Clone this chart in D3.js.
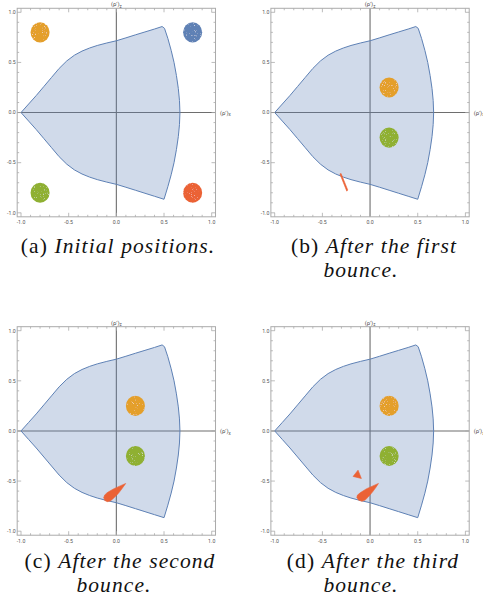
<!DOCTYPE html>
<html>
<head>
<meta charset="utf-8">
<script src="https://cdn.jsdelivr.net/npm/d3@7"></script>
<style>
  body { margin: 0; background: #fff; }
  svg { display: block; }
  .cap { font-family: "Liberation Serif", "DejaVu Serif", "Noto Serif", "Times New Roman", Times, serif; font-size: 21.5px; letter-spacing: 1.1px; fill: #111; }
  .tk { font-family: Roboto, "DejaVu Sans", sans-serif; fill: #555; }
</style>
</head>
<body>
<svg id="fig" width="483" height="607">
  <defs>
    <!-- fine grain so the clusters read as dense point clouds -->
    <filter id="grain" x="0" y="0" width="1" height="1">
      <feTurbulence type="fractalNoise" baseFrequency="1.1" numOctaves="1" seed="7" result="noise"/>
      <feColorMatrix in="noise" type="matrix"
        values="0 0 0 0 1  0 0 0 0 1  0 0 0 0 1  3 0 0 0 -1.85" result="spots"/>
      <feComposite in="spots" in2="SourceGraphic" operator="in" result="clipped"/>
      <feMerge><feMergeNode in="SourceGraphic"/><feMergeNode in="clipped"/></feMerge>
    </filter>
  </defs>
</svg>
<script>
// ---- values (data units of the (ρ')x / (ρ')z plane) ----
const tickValues = [-1, -0.5, 0, 0.5, 1];
const tickLabels = ["-1.0", "-0.5", "0.0", "0.5", "1.0"];
const minorTickValues = [-0.9, -0.8, -0.7, -0.6, -0.4, -0.3, -0.2, -0.1,
                         0.1, 0.2, 0.3, 0.4, 0.6, 0.7, 0.8, 0.9];

// boundary of the allowed region
const regionBoundary = [
  [-1.00, 0.00], [-0.92, 0.085], [-0.84, 0.17], [-0.76, 0.26], [-0.68, 0.35],
  [-0.60, 0.44], [-0.52, 0.515], [-0.44, 0.572], [-0.36, 0.613], [-0.28, 0.644],
  [-0.20, 0.669], [-0.10, 0.694], [0.00, 0.716], [0.10, 0.745], [0.20, 0.775],
  [0.30, 0.804], [0.40, 0.833], [0.48, 0.858], [0.505, 0.84],
  [0.54, 0.74], [0.575, 0.62], [0.605, 0.50], [0.63, 0.37], [0.65, 0.24],
  [0.662, 0.12], [0.667, 0.00], [0.662, -0.12], [0.65, -0.24], [0.63, -0.37],
  [0.605, -0.50], [0.575, -0.62], [0.54, -0.74], [0.50, -0.865],
  [0.40, -0.835], [0.30, -0.805], [0.20, -0.775], [0.10, -0.745], [0.00, -0.716],
  [-0.10, -0.694], [-0.20, -0.669], [-0.28, -0.644], [-0.36, -0.613], [-0.44, -0.572],
  [-0.52, -0.515], [-0.60, -0.44], [-0.68, -0.35], [-0.76, -0.26], [-0.84, -0.17],
  [-0.92, -0.085]
];

const clusterRadius = 0.1;
const clusterNames = ["orange", "blue", "green", "red"];
const initialCenters = [[-0.8, 0.8], [0.8, 0.8], [-0.8, -0.8], [0.8, -0.8]];
const bouncedNames = ["orange", "green"];
const bouncedCenters = [[0.2, 0.25], [0.2, -0.25]];

// the red cluster after each bounce
const redAfterFirst = [[-0.316, -0.612], [-0.304, -0.608], [-0.234, -0.772], [-0.244, -0.784]];
const redAfterSecond = [
  [0.098, -0.524], [0.04, -0.548], [-0.03, -0.578], [-0.09, -0.612], [-0.122, -0.638],
  [-0.132, -0.665], [-0.122, -0.693], [-0.095, -0.705], [-0.062, -0.698],
  [-0.03, -0.672], [0.02, -0.625], [0.06, -0.575]
];
const redAfterThird = [
  [0.088, -0.524], [0.03, -0.548], [-0.04, -0.578], [-0.10, -0.615], [-0.132, -0.64],
  [-0.138, -0.662], [-0.122, -0.69], [-0.085, -0.702], [-0.052, -0.69],
  [-0.02, -0.66], [0.025, -0.61], [0.06, -0.565]
];
const redShardThird = [[-0.126, -0.391], [-0.178, -0.454], [-0.091, -0.474]];

const captionLabels = ["(a)", "(b)", "(c)", "(d)"];
const captionLines = [
  ["Initial positions."],
  ["After the first", "bounce."],
  ["After the second", "bounce."],
  ["After the third", "bounce."]
];

// ---- styling ----
const colors = { orange: "#E49F2A", blue: "#5E81B5", green: "#8FB032", red: "#EB6235" };
const frameColor = "#ababab";
const axisColor = "#6e6e6e";

const svg = d3.select("#fig");

// one panel per subfigure: where its (-1, 1) corner lands, and where its caption lines sit
const panels = [
  { left: 21,    top: 12.3,  capX: [118, 118], capY: 253,
    clusters: initialCenters.map((c, i) => ({ c, name: clusterNames[i] })), reds: [] },
  { left: 274.7, top: 12.3,  capX: [374, 361], capY: 253,
    clusters: bouncedCenters.map((c, i) => ({ c, name: bouncedNames[i] })), reds: [redAfterFirst] },
  { left: 21,    top: 330.7, capX: [120, 114], capY: 568,
    clusters: bouncedCenters.map((c, i) => ({ c, name: bouncedNames[i] })), reds: [redAfterSecond] },
  { left: 274.7, top: 330.7, capX: [373, 361], capY: 568,
    clusters: bouncedCenters.map((c, i) => ({ c, name: bouncedNames[i] })), reds: [redAfterThird, redShardThird] }
];

const pad = 1.04;
const line = d3.line().curve(d3.curveLinearClosed);

panels.forEach((p, idx) => {
  const x = d3.scaleLinear().domain([-1, 1]).range([p.left, p.left + 190.7]);
  const y = d3.scaleLinear().domain([1, -1]).range([p.top, p.top + 200.5]);
  const g = svg.append("g");
  const fx0 = x(-pad), fx1 = x(pad), fy0 = y(pad), fy1 = y(-pad);

  line.x(d => x(d[0])).y(d => y(d[1]));

  // axes through the origin
  g.append("line").attr("x1", fx0).attr("x2", fx1).attr("y1", y(0)).attr("y2", y(0))
    .attr("stroke", axisColor).attr("stroke-width", 1.1);
  g.append("line").attr("x1", x(0)).attr("x2", x(0)).attr("y1", fy0).attr("y2", fy1)
    .attr("stroke", axisColor).attr("stroke-width", 1.1);

  // allowed region
  g.append("path").attr("d", line(regionBoundary))
    .attr("fill", colors.blue).attr("fill-opacity", 0.29)
    .attr("stroke", colors.blue).attr("stroke-width", 1).attr("stroke-linejoin", "round");

  // clusters
  g.selectAll("ellipse.cl").data(p.clusters).join("ellipse").attr("class", "cl")
    .attr("cx", d => x(d.c[0])).attr("cy", d => y(d.c[1]))
    .attr("rx", x(clusterRadius) - x(0)).attr("ry", y(0) - y(clusterRadius))
    .attr("fill", d => colors[d.name]).attr("filter", "url(#grain)");

  g.selectAll("path.red").data(p.reds).join("path").attr("class", "red")
    .attr("d", d => line(d)).attr("fill", colors.red)
    .attr("stroke", colors.red).attr("stroke-width", 0.6).attr("stroke-linejoin", "round");

  // frame with ticks on all four sides
  const frame = g.append("g");
  frame.append("rect").attr("x", fx0).attr("y", fy0).attr("width", fx1 - fx0).attr("height", fy1 - fy0)
    .attr("fill", "none").attr("stroke", frameColor).attr("stroke-width", 1);
  const tickSets = [[tickValues, 4], [minorTickValues, 2]];
  tickSets.forEach(([vals, len]) => {
    vals.forEach(v => {
      frame.append("line").attr("x1", x(v)).attr("x2", x(v)).attr("y1", fy1).attr("y2", fy1 - len)
        .attr("stroke", frameColor).attr("stroke-width", 0.8);
      frame.append("line").attr("x1", x(v)).attr("x2", x(v)).attr("y1", fy0).attr("y2", fy0 + len)
        .attr("stroke", frameColor).attr("stroke-width", 0.8);
      frame.append("line").attr("y1", y(v)).attr("y2", y(v)).attr("x1", fx0).attr("x2", fx0 + len)
        .attr("stroke", frameColor).attr("stroke-width", 0.8);
      frame.append("line").attr("y1", y(v)).attr("y2", y(v)).attr("x1", fx1).attr("x2", fx1 - len)
        .attr("stroke", frameColor).attr("stroke-width", 0.8);
    });
  });

  // tick labels (left and bottom)
  tickValues.forEach((v, i) => {
    g.append("text").attr("class", "tk").attr("x", fx0 - 1.5).attr("y", y(v)).attr("dy", "0.35em")
      .attr("text-anchor", "end").attr("font-size", 5.2).text(tickLabels[i]);
    g.append("text").attr("class", "tk").attr("x", x(v)).attr("y", fy1 + 5.5).attr("dy", "0.35em")
      .attr("text-anchor", "middle").attr("font-size", 5.2).text(tickLabels[i]);
  });

  // axis labels
  const xl = g.append("text").attr("class", "tk").attr("x", fx1 + 4.5).attr("y", y(0)).attr("dy", "0.35em")
    .attr("font-size", 6);
  xl.append("tspan").text("(ρ')");
  xl.append("tspan").attr("dy", 1.5).attr("font-size", 4.5).text("x");
  const zl = g.append("text").attr("class", "tk").attr("x", x(0)).attr("y", fy0 - 4).attr("dy", "0.35em")
    .attr("text-anchor", "middle").attr("font-size", 6);
  zl.append("tspan").text("(ρ')");
  zl.append("tspan").attr("dy", 1.5).attr("font-size", 4.5).text("z");

  // caption: upright label, italic text, second line below when it wraps
  const lines = captionLines[idx];
  const t1 = svg.append("text").attr("class", "cap").attr("x", p.capX[0]).attr("y", p.capY)
    .attr("text-anchor", "middle");
  t1.append("tspan").text(captionLabels[idx] + " ");
  t1.append("tspan").attr("font-style", "italic").text(lines[0]);
  if (lines.length > 1) {
    svg.append("text").attr("class", "cap").attr("x", p.capX[1]).attr("y", p.capY + 24)
      .attr("text-anchor", "middle").attr("font-style", "italic").text(lines[1]);
  }
});
</script>
</body>
</html>
